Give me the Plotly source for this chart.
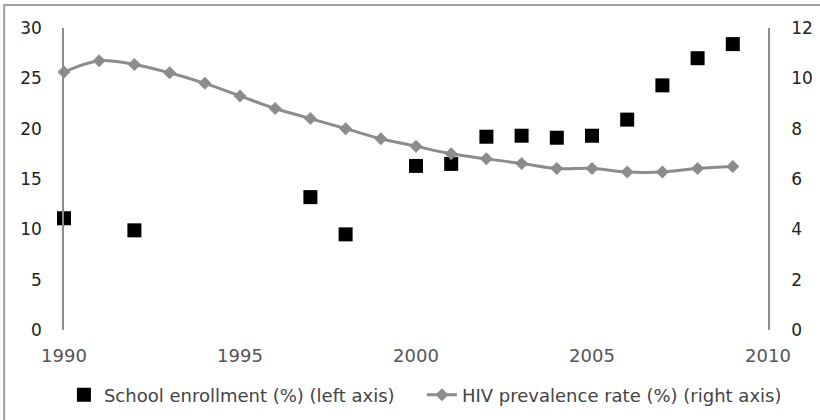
import plotly.graph_objects as go

# School enrollment (%) – left axis, reported years only
enroll_years = [1990, 1992, 1997, 1998, 2000, 2001, 2002, 2003, 2004, 2005, 2006, 2007, 2008, 2009]
enroll_values = [11.1, 9.9, 13.2, 9.5, 16.3, 16.5, 19.2, 19.3, 19.1, 19.3, 20.9, 24.3, 27.0, 28.4]

# HIV prevalence rate (%) – right axis, yearly
hiv_years = list(range(1990, 2010))
hiv_values = [10.25, 10.7, 10.55, 10.22, 9.8, 9.3, 8.8, 8.4, 8.0, 7.6,
              7.3, 7.0, 6.8, 6.62, 6.42, 6.42, 6.28, 6.28, 6.42, 6.5]

left_ticks = [0, 5, 10, 15, 20, 25, 30]
right_ticks = [0, 2, 4, 6, 8, 10, 12]
x_ticks = [1990, 1995, 2000, 2005, 2010]

FONT = "DejaVu Sans"
GREY = "#8c8c8c"

fig = go.Figure()

fig.add_trace(go.Scatter(
    x=enroll_years, y=enroll_values,
    mode="markers",
    name="School enrollment (%) (left axis)",
    marker=dict(symbol="square", size=14, color="#000000"),
    cliponaxis=False,
    yaxis="y",
))

fig.add_trace(go.Scatter(
    x=hiv_years, y=hiv_values,
    mode="lines+markers",
    name="HIV prevalence rate (%) (right axis)",
    line=dict(color=GREY, width=3, shape="spline"),
    marker=dict(symbol="diamond", size=10, color=GREY),
    cliponaxis=False,
    yaxis="y2",
))

fig.update_layout(
    width=820, height=420,
    margin=dict(l=64, r=52, t=28, b=90, autoexpand=False),
    paper_bgcolor="white",
    plot_bgcolor="white",
    font=dict(family=FONT, size=17, color="#333333"),
    showlegend=True,
    legend=dict(
        orientation="h",
        x=-0.0001, xanchor="left",
        y=-0.215, yanchor="middle",
        font=dict(family=FONT, size=18, color="#444444"),
        entrywidth=313, entrywidthmode="pixels",
        bgcolor="rgba(0,0,0,0)",
    ),
    xaxis=dict(
        range=[1990, 2010],
        tickvals=x_ticks,
        showgrid=False, zeroline=False,
        showline=False,
        ticks="",
        ticklabelstandoff=13,
        tickfont=dict(family=FONT, size=18, color="#555555"),
    ),
    yaxis=dict(
        range=[0, 30],
        tickvals=left_ticks,
        showgrid=False, zeroline=False,
        showline=True, linecolor=GREY, linewidth=1.5,
        ticks="",
        ticklabelstandoff=17,
        tickfont=dict(family=FONT, size=17, color="#222222"),
    ),
    yaxis2=dict(
        range=[0, 12],
        tickvals=right_ticks,
        overlaying="y", side="right",
        showgrid=False, zeroline=False,
        showline=True, linecolor=GREY, linewidth=1.5,
        ticks="",
        ticklabelstandoff=18,
        tickfont=dict(family=FONT, size=17, color="#222222"),
    ),
    shapes=[
        # outer chart frame (runs off the right and bottom edges)
        dict(type="rect", xref="paper", yref="paper",
             x0=-0.085, x1=1.2, y0=-0.6, y1=1.076,
             line=dict(color="#a0a0a0", width=2),
             fillcolor="rgba(0,0,0,0)", layer="below"),
    ],
)

fig.write_html("out.html")
